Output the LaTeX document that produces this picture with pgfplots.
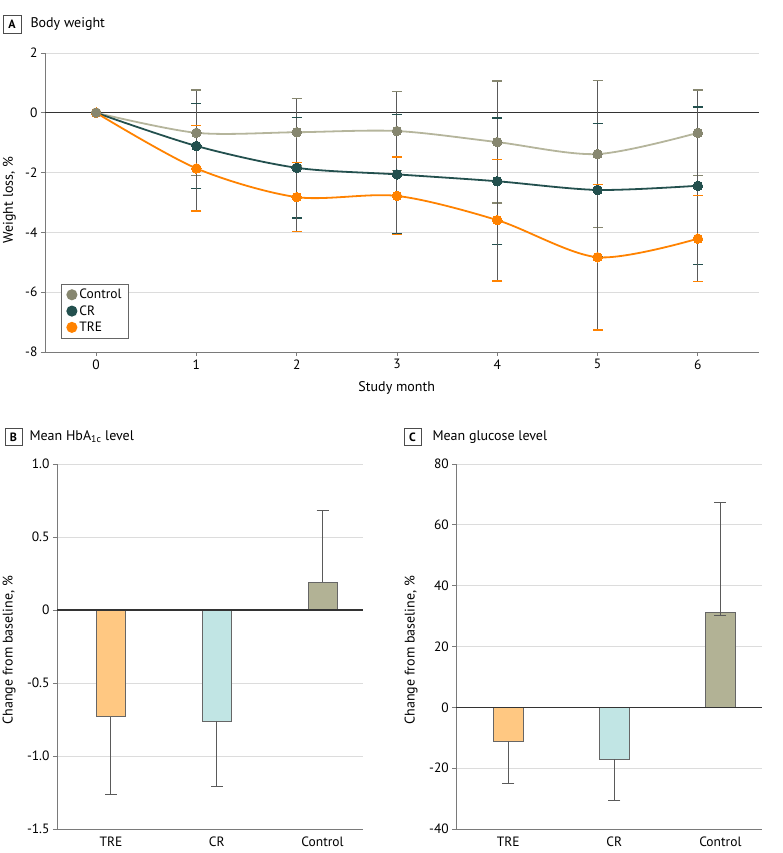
\documentclass[border=0pt]{standalone}
\usepackage{pgfplots}
\pgfplotsset{compat=1.18}
\usepackage{fontspec}
\setmainfont{PT Sans}
\definecolor{ctrlLine}{HTML}{B5B59C}
\definecolor{ctrlMark}{HTML}{878770}
\definecolor{crC}{HTML}{23504E}
\definecolor{treC}{HTML}{FF8200}
\definecolor{treBar}{HTML}{FFC882}
\definecolor{crBar}{HTML}{C1E5E4}
\definecolor{ctrlBar}{HTML}{B2B295}
\definecolor{gridC}{HTML}{DCDCDC}
\definecolor{axisC}{HTML}{7A7A7A}
\definecolor{ebC}{HTML}{5A5A5A}
\pgfplotsset{
 common/.style={
  scale only axis,
  axis x line*=bottom, axis y line*=left,
  axis line style={axisC, line width=0.9pt},
  tick style={axisC, line width=0.8pt},
  tick align=outside,
  major tick length=4pt,
  ymajorgrids, grid style={gridC, line width=0.9pt},
  tick label style={font=\fontsize{13.5}{15}\selectfont},
  label style={font=\fontsize{14}{16}\selectfont},
  /pgf/number format/assume math mode=true,
  clip=false,
 },
 ebA/.style={draw=none, forget plot, error bars/.cd, y dir=both, y explicit,
   error bar style={draw=ebC, line width=1pt},
   error mark options={rotate=90, mark size=5pt, draw=#1, line width=1.4pt}},
 ebB/.style={error bars/.cd, y dir=#1, y explicit,
   error bar style={draw=ebC, line width=0.9pt},
   error mark options={rotate=90, mark size=6pt, draw=ebC, line width=0.9pt}},
}
\begin{document}
\begin{tikzpicture}
\useasboundingbox (0,0) rectangle (783pt,853pt);
% titles
\node[draw=black!70, line width=0.8pt, minimum width=18pt, minimum height=18pt, inner sep=0pt, font=\bfseries\fontsize{12}{14}\selectfont] at (12pt,828.5pt) {A};
\node[anchor=west, font=\fontsize{14}{16}\selectfont] at (27pt,828.5pt) {Body weight};
\node[draw=black!70, line width=0.8pt, minimum width=17pt, minimum height=17pt, inner sep=0pt, font=\bfseries\fontsize{12}{14}\selectfont] at (13.5pt,416pt) {B};
\node[anchor=west, font=\fontsize{14}{16}\selectfont] at (26pt,416pt) {Mean HbA\textsubscript{1c} level};
\node[draw=black!70, line width=0.8pt, minimum width=17pt, minimum height=17pt, inner sep=0pt, font=\bfseries\fontsize{12}{14}\selectfont] at (412.5pt,416pt) {C};
\node[anchor=west, font=\fontsize{14}{16}\selectfont] at (429pt,416pt) {Mean glucose level};

% Panel A
\begin{axis}[common, at={(45pt,501pt)}, anchor=south west, width=714pt, height=299pt,
  xmin=-0.51, xmax=6.61, ymin=-8, ymax=2,
  xtick={0,1,2,3,4,5,6}, xticklabels={0,1,2,3,4,5,6},
  ytick={-8,-6,-4,-2,0,2}, yticklabels={-8,-6,-4,-2,0,2},
  xlabel={Study month}, ylabel={Weight loss, \%},
  xlabel style={at={(axis description cs:0.4926,-0.12)}, anchor=center},
  ylabel style={at={(axis description cs:-0.05,0.508)}, anchor=center},
  legend cell align=left,
  legend style={at={(axis description cs:0.0224,0.228)}, anchor=north west,
    draw=black!60, line width=0.8pt, fill=white,
    font=\fontsize{13.5}{15}\selectfont, inner xsep=5pt, inner ysep=3pt, row sep=1.2pt},
]
\draw[black!80, line width=1.3pt] (axis cs:-0.51,0) -- (axis cs:6.61,0);
\addplot[ebA=ctrlMark] coordinates {(1,-0.67) +- (0,1.43) (2,-0.65) +- (0,1.13) (3,-0.61) +- (0,1.32) (4,-0.98) +- (0,2.04) (5,-1.38) +- (0,2.45) (6,-0.67) +- (0,1.43)};
\addplot[ebA=crC] coordinates {(1,-1.11) +- (0,1.42) (2,-1.84) +- (0,1.68) (3,-2.06) +- (0,2.0) (4,-2.29) +- (0,2.11) (5,-2.58) +- (0,2.22) (6,-2.44) +- (0,2.63)};
\addplot[ebA=treC] coordinates {(1,-1.86) +- (0,1.43) (2,-2.82) +- (0,1.15) (3,-2.78) +- (0,1.3) (4,-3.59) +- (0,2.03) (5,-4.83) +- (0,2.44) (6,-4.21) +- (0,1.44)};
\addplot[ctrlLine, line width=1.8pt, smooth, mark=*, mark size=4.8pt, mark options={fill=ctrlMark, draw=ctrlMark, line width=0pt},
  legend image code/.code={\fill[ctrlMark] (0pt,0pt) circle (4.6pt);}]
  coordinates {(0,0) (1,-0.67) (2,-0.65) (3,-0.61) (4,-0.98) (5,-1.38) (6,-0.67)};
\addlegendentry{Control}
\addplot[crC, line width=1.8pt, smooth, mark=*, mark size=4.8pt, mark options={fill=crC, draw=crC, line width=0pt},
  legend image code/.code={\fill[crC] (0pt,0pt) circle (4.6pt);}]
  coordinates {(0,0) (1,-1.11) (2,-1.84) (3,-2.06) (4,-2.29) (5,-2.58) (6,-2.44)};
\addlegendentry{CR}
\addplot[treC, line width=1.8pt, smooth, mark=*, mark size=4.8pt, mark options={fill=treC, draw=treC, line width=0pt},
  legend image code/.code={\fill[treC] (0pt,0pt) circle (4.6pt);}]
  coordinates {(0,0) (1,-1.86) (2,-2.82) (3,-2.78) (4,-3.59) (5,-4.83) (6,-4.21)};
\addlegendentry{TRE}
\addplot[ctrlMark, only marks, mark=*, mark size=4.8pt, forget plot] coordinates {(0,0)};
\end{axis}

% Panel B
\begin{axis}[common, at={(57pt,24pt)}, anchor=south west, width=305.7pt, height=365pt,
  xmin=-0.51, xmax=2.38, ymin=-1.5, ymax=1,
  xtick={0,1,2}, xticklabels={TRE,CR,Control}, x tick style={draw=none},
  ytick={-1.5,-1,-0.5,0,0.5,1}, yticklabels={-1.5,-1.0,-0.5,0,0.5,1.0},
  ylabel={Change from baseline, \%},
  ylabel style={at={(axis description cs:-0.157,0.49)}, anchor=center},
  ybar, bar width=29pt]
\addplot[fill=treBar, draw=black!60, line width=0.8pt, bar shift=0pt, ebB=minus] coordinates {(0,-0.73) -= (0,0.53)};
\addplot[fill=crBar, draw=black!60, line width=0.8pt, bar shift=0pt, ebB=minus] coordinates {(1,-0.76) -= (0,0.45)};
\addplot[fill=ctrlBar, draw=black!60, line width=0.8pt, bar shift=0pt, ebB=plus] coordinates {(2,0.19) += (0,0.49)};
\draw[black!80, line width=1.3pt] (axis cs:-0.51,0) -- (axis cs:2.38,0);
\end{axis}

% Panel C
\begin{axis}[common, at={(456.3pt,24pt)}, anchor=south west, width=305.4pt, height=365pt,
  xmin=-0.49, xmax=2.39, ymin=-40, ymax=80,
  xtick={0,1,2}, xticklabels={TRE,CR,Control}, x tick style={draw=none},
  ytick={-40,-20,0,20,40,60,80}, yticklabels={-40,-20,0,20,40,60,80},
  ylabel={Change from baseline, \%},
  ylabel style={at={(axis description cs:-0.148,0.49)}, anchor=center},
  ybar, bar width=30pt]
\addplot[fill=treBar, draw=black!60, line width=0.8pt, bar shift=0pt, ebB=minus] coordinates {(0,-11.2) -= (0,13.8)};
\addplot[fill=crBar, draw=black!60, line width=0.8pt, bar shift=0pt, ebB=minus] coordinates {(1,-17.1) -= (0,13.6)};
\addplot[fill=ctrlBar, draw=black!60, line width=0.8pt, bar shift=0pt, ebB=both] coordinates {(2,31.2) += (0,36) -= (0,0.9)};
\draw[black!80, line width=1.3pt] (axis cs:-0.49,0) -- (axis cs:2.39,0);
\end{axis}
\end{tikzpicture}
\end{document}
